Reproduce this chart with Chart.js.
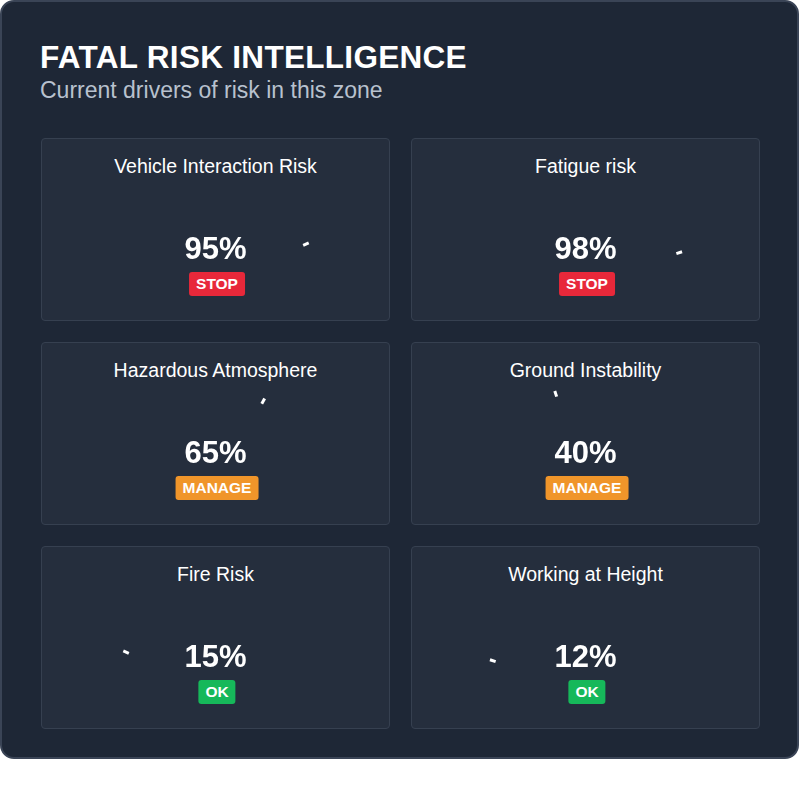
<!DOCTYPE html>
<html><head><meta charset="utf-8">
<script src="https://cdn.jsdelivr.net/npm/chart.js@4"></script>
<style>
body{margin:0;background:#fff;font-family:"Liberation Sans",Arial,sans-serif;}
#card{position:absolute;left:0;top:0;width:795px;height:755px;background:#1e2736;border:2px solid #3a4456;border-radius:14px;}
h1{position:absolute;left:38px;top:37px;margin:0;color:#fff;font-size:31.5px;font-weight:bold;letter-spacing:0.3px}
.sub{position:absolute;left:38px;top:75px;color:#b8c1ce;font-size:23px}
.panel{position:absolute;width:347px;height:181px;background:#252e3d;border:1px solid #364050;border-radius:4px}
.pt{position:absolute;left:0;width:100%;top:16px;text-align:center;color:#fff;font-size:19.5px}
.pv{position:absolute;left:0;width:100%;top:92px;text-align:center;color:#fff;font-size:31px;font-weight:bold}
.badge{position:absolute;top:133px;height:24px;line-height:24px;padding:0 7px;color:#fff;font-weight:bold;font-size:15.5px;border-radius:3px;transform:translateX(-50%);left:175px}
canvas{position:absolute}
</style></head><body>
<div id="card"><h1>FATAL RISK INTELLIGENCE</h1><div class="sub">Current drivers of risk in this zone</div></div>
<script>
const categories=["Vehicle Interaction Risk","Fatigue risk","Hazardous Atmosphere","Ground Instability","Fire Risk","Working at Height"];
const percentLabels=[95,98,65,40,15,12];
const gaugeFill=[87,90,66,40,13,10];
const statusLabels=["STOP","STOP","MANAGE","MANAGE","OK","OK"];
const statusColors={STOP:["#ef4444","#e8283a"],MANAGE:["#f0952a","#f0952a"],OK:["#22c55e","#16b85a"]};
const track="#3b4556";
const capPlugin={id:'caps',afterDatasetsDraw(chart){
  const ctx=chart.ctx;const arcs=chart.getDatasetMeta(0).data;
  const a=arcs[0],b=arcs[1];const r=(a.innerRadius+a.outerRadius)/2,w=(a.outerRadius-a.innerRadius);
  ctx.save();
  [[a,a.startAngle],[b,b.endAngle]].forEach(([el,ang])=>{ctx.fillStyle=el.options.backgroundColor;ctx.beginPath();ctx.arc(a.x+r*Math.cos(ang),a.y+r*Math.sin(ang),w/2,0,Math.PI*2);ctx.fill();});
  const e=a.endAngle;ctx.strokeStyle="#fff";ctx.lineWidth=3;ctx.beginPath();
  ctx.moveTo(a.x+(a.innerRadius-3)*Math.cos(e),a.y+(a.innerRadius-3)*Math.sin(e));
  ctx.lineTo(a.x+(a.outerRadius+3)*Math.cos(e),a.y+(a.outerRadius+3)*Math.sin(e));ctx.stroke();ctx.restore();}};
const card=document.getElementById('card');
categories.forEach((c,i)=>{
  const p=document.createElement('div');p.className='panel';
  p.style.left=(i%2?409:39)+'px';p.style.top=(136+Math.floor(i/2)*204)+'px';
  const col=statusColors[statusLabels[i]];
  p.innerHTML=`<div class="pt">${c}</div><div class="pv">${percentLabels[i]}%</div><div class="badge" style="background:${col[1]}">${statusLabels[i]}</div>`;
  const cv=document.createElement('canvas');cv.width=208;cv.height=110;cv.style.left='70px';cv.style.top='40px';cv.style.width='208px';cv.style.height='110px';
  p.insertBefore(cv,p.firstChild);card.appendChild(p);
  new Chart(cv,{type:'doughnut',data:{labels:['value','rest'],datasets:[{data:[gaugeFill[i],100-gaugeFill[i]],backgroundColor:[col[0],track],borderWidth:0}]},
    options:{responsive:false,animation:false,rotation:-90,circumference:180,cutout:86,layout:{padding:6},plugins:{legend:{display:false},tooltip:{enabled:false}}},plugins:[capPlugin]});
});
</script></body></html>
